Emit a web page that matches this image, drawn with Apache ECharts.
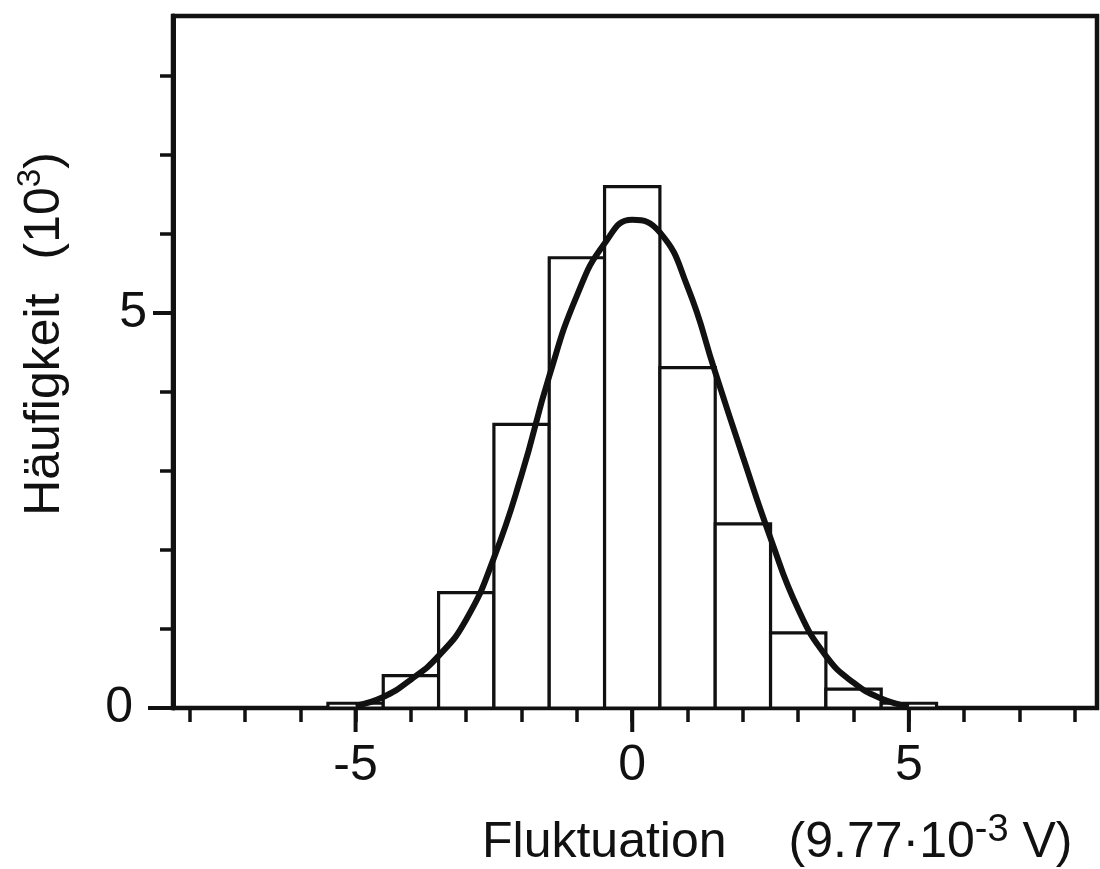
<!DOCTYPE html>
<html>
<head>
<meta charset="utf-8">
<script src="https://cdn.jsdelivr.net/npm/echarts@6/dist/echarts.min.js"></script>
<style>
html,body{margin:0;padding:0;background:#ffffff;}
#c{width:1100px;height:869px;}
</style>
</head>
<body>
<div id="c"></div>
<script>
// ---- data ----
const binCenters = [-5, -4, -3, -2, -1, 0, 1, 2, 3, 4, 5];
const binCounts  = [0.06, 0.41, 1.46, 3.59, 5.70, 6.60, 4.31, 2.33, 0.95, 0.24, 0.06];
const binWidth = 1;

const curveX = [-5.0, -4.5, -4.0, -3.5, -3.0, -2.5, -2.0, -1.5, -1.0, -0.5, 0.0, 0.5, 1.0, 1.5, 2.0, 2.5, 3.0, 3.5, 4.0, 4.5, 5.0];
const curveY = [0.03, 0.14, 0.36, 0.66, 1.12, 1.90, 2.95, 4.20, 5.22, 5.88, 6.18, 6.02, 5.33, 4.25, 3.18, 2.15, 1.25, 0.66, 0.32, 0.12, 0.02];

const xTickValues  = [-8, -7, -6, -5, -4, -3, -2, -1, 0, 1, 2, 3, 4, 5, 6, 7, 8];
const xLabelValues = [-5, 0, 5];
const xMajorTicks  = [-5, 0, 5];
const yTickValues  = [0, 1, 2, 3, 4, 5, 6, 7, 8];
const yLabelValues = [0, 5];
const yMajorTicks  = [0, 5];

const xMin = -8.3, xMax = 8.4;
const yMin = 0, yMax = 8.76;

const xTitle = 'Fluktuation';
const xUnit = '(9.77·10';
const xUnitExp = '-3';
const xUnitEnd = ' V)';
const yTitle = 'Häufigkeit';
const yUnit = '(10';
const yUnitExp = '3';
const yUnitEnd = ')';

// ---- chart ----
const INK = '#111111';
const FONT = '"Liberation Sans", Arial, sans-serif';
const chart = echarts.init(document.getElementById('c'), null, {renderer: 'canvas'});

const barData = binCenters.map((c, i) => [c, binCounts[i]]);
const curveData = curveX.map((x, i) => [x, curveY[i]]);

const option = {
  backgroundColor: '#ffffff',
  animation: false,
  grid: {
    left: 173, right: 3, top: 16, bottom: 161,
    show: true, borderColor: INK, borderWidth: 4.5, backgroundColor: 'transparent'
  },
  xAxis: {
    type: 'value', min: xMin, max: xMax,
    axisLine: {show: true, onZero: false, lineStyle: {color: INK, width: 4}},
    axisTick: {show: true, inside: false, length: 14, customValues: xTickValues, lineStyle: {color: INK, width: 3.5}},
    axisLabel: {
      show: true, customValues: xLabelValues, margin: 33,
      color: INK, fontFamily: FONT, fontSize: 50,
      formatter: v => String(v)
    },
    splitLine: {show: false}
  },
  yAxis: {
    type: 'value', min: yMin, max: yMax,
    axisLine: {show: true, onZero: false, lineStyle: {color: INK, width: 5}},
    axisTick: {show: true, inside: false, length: 13, customValues: yTickValues, lineStyle: {color: INK, width: 3.5}},
    axisLabel: {
      show: true, customValues: yLabelValues, margin: 26,
      color: INK, fontFamily: FONT, fontSize: 50,
      formatter: v => (v === 0 ? '{z|0}' : '{n|' + v + '}'),
      rich: {
        z: {fontFamily: FONT, fontSize: 50, color: INK, padding: [0, 14, 0, 0]},
        n: {fontFamily: FONT, fontSize: 50, color: INK}
      }
    },
    splitLine: {show: false}
  },
  series: [
    {
      name: 'Histogramm', type: 'custom', data: barData, clip: false, z: 2,
      renderItem: function (params, api) {
        const c = api.value(0), h = api.value(1);
        const p0 = api.coord([c - binWidth / 2, h]);
        const p1 = api.coord([c + binWidth / 2, 0]);
        return {
          type: 'rect',
          shape: {x: p0[0], y: p0[1], width: p1[0] - p0[0], height: p1[1] - p0[1]},
          style: {fill: '#ffffff', stroke: INK, lineWidth: 3.2}
        };
      }
    },
    {
      name: 'Gauss', type: 'line', data: curveData, smooth: 0.5,
      showSymbol: false, symbol: 'none', z: 5,
      lineStyle: {color: INK, width: 6}
    },
    {
      name: 'xMajor', type: 'custom', data: xMajorTicks.map(v => [v, 0]), clip: false, z: 6, silent: true,
      renderItem: function (params, api) {
        const p = api.coord([api.value(0), yMin]);
        return {type: 'line', shape: {x1: p[0], y1: p[1], x2: p[0], y2: p[1] + 24},
                style: {stroke: INK, lineWidth: 4}};
      }
    },
    {
      name: 'yMajor', type: 'custom', data: yMajorTicks.map(v => [xMin, v]), clip: false, z: 6, silent: true,
      renderItem: function (params, api) {
        const v = api.value(1);
        const p = api.coord([xMin, v]);
        const len = v === 0 ? 25 : 20;
        return {type: 'line', shape: {x1: p[0], y1: p[1], x2: p[0] - len, y2: p[1]},
                style: {stroke: INK, lineWidth: 4}};
      }
    }
  ],
  graphic: [
    {
      type: 'text', x: 482, y: 812, silent: true,
      style: {
        text: '{a|' + xTitle + '}{g| }{a|' + xUnit + '}{s|' + xUnitExp + '}{a|' + xUnitEnd + '}',
        align: 'left', verticalAlign: 'top', textAlign: 'left', textVerticalAlign: 'top',
        rich: {
          a: {fontFamily: FONT, fontSize: 50, fill: INK, color: INK, lineHeight: 56, verticalAlign: 'bottom'},
          g: {fontFamily: FONT, fontSize: 50, width: 62, lineHeight: 56, verticalAlign: 'bottom'},
          s: {fontFamily: FONT, fontSize: 38, fill: INK, color: INK, lineHeight: 26, verticalAlign: 'top'}
        }
      }
    },
    {
      type: 'text', x: 14, y: 334, rotation: Math.PI / 2, silent: true,
      style: {
        text: '{a|' + yTitle + '}{g| }{a|' + yUnit + '}{s|' + yUnitExp + '}{a|' + yUnitEnd + '}',
        align: 'center', verticalAlign: 'top', textAlign: 'center', textVerticalAlign: 'top',
        rich: {
          a: {fontFamily: FONT, fontSize: 50, fill: INK, color: INK, lineHeight: 56, verticalAlign: 'bottom'},
          g: {fontFamily: FONT, fontSize: 50, width: 34, lineHeight: 56, verticalAlign: 'bottom'},
          s: {fontFamily: FONT, fontSize: 33, fill: INK, color: INK, lineHeight: 16, verticalAlign: 'top'}
        }
      }
    }
  ]
};
chart.setOption(option);
</script>
</body>
</html>
